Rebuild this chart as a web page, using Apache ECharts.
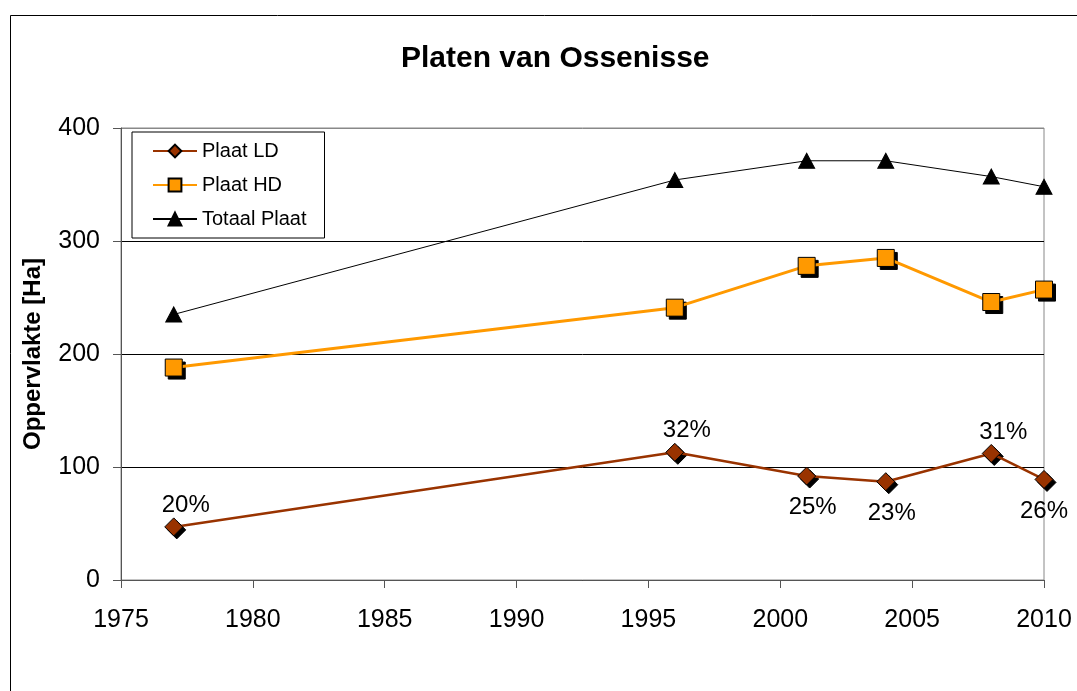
<!DOCTYPE html>
<html><head><meta charset="utf-8">
<script src="https://cdn.jsdelivr.net/npm/echarts@6/dist/echarts.min.js"></script>
<style>html,body{margin:0;padding:0;background:#fff}#c{width:1077px;height:691px}</style>
</head><body><div id="c"></div>
<script>
const years = [1977, 1996, 2001, 2004, 2008, 2010];
const plaatLD = [47, 113, 92, 87, 112, 89];
const plaatHD = [188, 241, 278, 285, 246, 257];
const totaalPlaat = [235, 354, 371, 371, 357, 348];
const ldPercent = ['20%', '32%', '25%', '23%', '31%', '26%'];
const xTicks = [1975, 1980, 1985, 1990, 1995, 2000, 2005, 2010];
const yTicks = [0, 100, 200, 300, 400];

const font = 'Liberation Sans, Arial, sans-serif';
const chart = echarts.init(document.getElementById('c'));

const ldData = years.map((y, i) => {
  const above = (i === 0 || plaatLD[i] > 100);
  return {
    value: [y, plaatLD[i]],
    label: {
      show: true,
      formatter: ldPercent[i],
      position: above ? 'top' : 'bottom',
      offset: above ? [12, 8] : [i === 5 ? 0 : 6, 2],
      distance: 8
    }
  };
});

const pairs = arr => years.map((y, i) => [y, arr[i]]);
const shadowSeries = (name, data, symbol, size) => ({
  name: name, type: 'line', data: data, symbol: symbol, symbolSize: size,
  symbolOffset: [3, 3], showSymbol: true, silent: true,
  lineStyle: { opacity: 0, width: 0 },
  itemStyle: { color: '#000', borderColor: '#000', borderWidth: 1 },
  z: 2
});

chart.setOption({
  animation: false,
  backgroundColor: '#fff',
  textStyle: { fontFamily: font },
  title: {
    text: 'Platen van Ossenisse',
    left: 396, top: 39,
    textStyle: { fontSize: 30, fontWeight: 'bold', color: '#000', fontFamily: font }
  },
  graphic: [{
    type: 'rect', shape: { x: 10.5, y: 15.5, width: 1100, height: 700 },
    style: { fill: null, stroke: '#000', lineWidth: 1 }, silent: true, z: -1
  }],
  legend: {
    left: 132, top: 132, orient: 'vertical',
    backgroundColor: '#fff', borderColor: '#000', borderWidth: 1,
    padding: [9, 18, 9, 20], itemGap: 14, itemWidth: 44, itemHeight: 16,
    textStyle: { fontSize: 20, lineHeight: 20, color: '#000', fontFamily: font },
    data: ['Plaat LD', 'Plaat HD', 'Totaal Plaat']
  },
  grid: { left: 121, right: 33, top: 128, bottom: 111, show: true, borderColor: '#888', borderWidth: 1 },
  xAxis: {
    type: 'value', min: xTicks[0], max: xTicks[xTicks.length - 1], interval: 5,
    axisLine: { lineStyle: { color: '#555', width: 1 } },
    axisTick: { show: true, length: 8, inside: false, lineStyle: { color: '#555' } },
    splitLine: { show: false },
    axisLabel: { fontSize: 25, color: '#000', margin: 28, fontFamily: font, formatter: v => String(v) }
  },
  yAxis: {
    type: 'value', min: yTicks[0], max: yTicks[yTicks.length - 1], interval: 100,
    name: 'Oppervlakte [Ha]', nameLocation: 'middle', nameGap: 76, nameRotate: 90,
    nameTextStyle: { fontSize: 24, fontWeight: 'bold', color: '#000', fontFamily: font },
    axisLine: { show: true, lineStyle: { color: '#555', width: 1 } },
    axisTick: { show: true, length: 8, lineStyle: { color: '#555' } },
    splitLine: { show: true, lineStyle: { color: ['#000', '#000', '#000', '#000', '#888'], width: 1 } },
    axisLabel: { fontSize: 25, color: '#000', margin: 21, fontFamily: font }
  },
  series: [
    shadowSeries('LD shadow', pairs(plaatLD), 'diamond', 18),
    shadowSeries('HD shadow', pairs(plaatHD), 'rect', 17),
    {
      name: 'Plaat LD', type: 'line', data: ldData,
      symbol: 'diamond', symbolSize: 18,
      lineStyle: { color: '#993300', width: 2.5 },
      itemStyle: { color: '#993300', borderColor: '#000', borderWidth: 1 },
      label: { fontSize: 24, color: '#000', fontFamily: font },
      z: 3
    },
    {
      name: 'Plaat HD', type: 'line', data: pairs(plaatHD),
      symbol: 'rect', symbolSize: 17,
      lineStyle: { color: '#FF9900', width: 3 },
      itemStyle: { color: '#FF9900', borderColor: '#000', borderWidth: 1 },
      z: 3
    },
    {
      name: 'Totaal Plaat', type: 'line', data: pairs(totaalPlaat),
      symbol: 'triangle', symbolSize: [16, 15],
      lineStyle: { color: '#000', width: 1 },
      itemStyle: { color: '#000', borderColor: '#000', borderWidth: 1 },
      z: 3
    }
  ]
});
</script></body></html>
